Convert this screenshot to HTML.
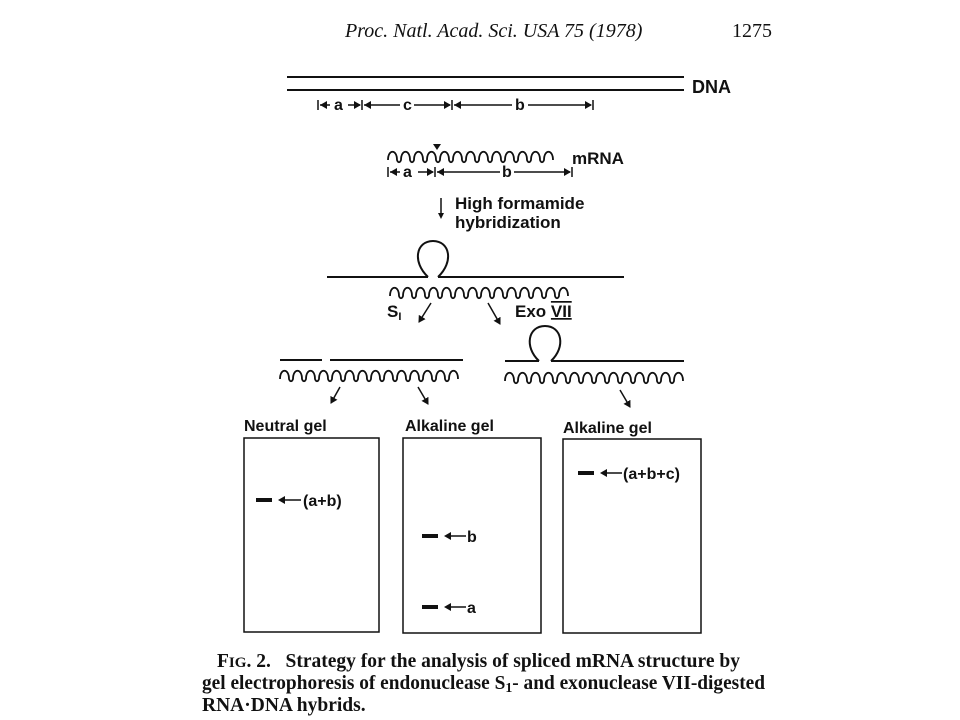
<!DOCTYPE html>
<html><head><meta charset="utf-8"><style>
html,body{margin:0;padding:0;background:#fff;}
svg{display:block}
.s{font-family:"Liberation Sans",sans-serif;font-weight:bold;fill:#111}
.r{font-family:"Liberation Serif",serif;fill:#111}
</style></head><body>
<svg width="960" height="720" viewBox="0 0 960 720" xmlns="http://www.w3.org/2000/svg">
<defs>
<marker id="ah" markerWidth="8" markerHeight="8" refX="6" refY="4" orient="auto" markerUnits="userSpaceOnUse"><path d="M0,0 L7,4 L0,8 z" fill="#111"/></marker>
</defs>
<text x="345" y="37" class="r" font-style="italic" font-size="20">Proc. Natl. Acad. Sci. USA 75 (1978)</text>
<text x="732" y="37" class="r" font-size="20">1275</text>

<g stroke="#111" stroke-width="2" fill="none">
<line x1="287" y1="77" x2="684" y2="77"/>
<line x1="287" y1="90" x2="684" y2="90"/>
</g>
<text x="692" y="93" class="s" font-size="18">DNA</text>
<g stroke="#111" stroke-width="1.5" fill="none">
<line x1="318" y1="100" x2="318" y2="110"/><line x1="362" y1="100" x2="362" y2="110"/><line x1="452" y1="100" x2="452" y2="110"/><line x1="593" y1="100" x2="593" y2="110"/>
<line x1="320" y1="105" x2="330" y2="105"/>
<line x1="348" y1="105" x2="360" y2="105" marker-end="url(#ah)"/>
<line x1="364" y1="105" x2="400" y2="105"/>
<line x1="414" y1="105" x2="450" y2="105" marker-end="url(#ah)"/>
<line x1="454" y1="105" x2="512" y2="105"/>
<line x1="528" y1="105" x2="591" y2="105" marker-end="url(#ah)"/>
</g>
<polygon points="320,105 327,101 327,109" fill="#111"/>
<polygon points="364,105 371,101 371,109" fill="#111"/>
<polygon points="454,105 461,101 461,109" fill="#111"/>
<text x="334" y="110" class="s" font-size="16">a</text>
<text x="403" y="110" class="s" font-size="16">c</text>
<text x="515" y="110" class="s" font-size="16">b</text>

<g stroke="#111" stroke-width="1.8" fill="none">
<path d="M388 160 c0 -11 9 -11 9 0 c1 3 3 3 4 0 c0 -11 9 -11 9 0 c1 3 3 3 4 0 c0 -11 9 -11 9 0 c1 3 3 3 4 0 c0 -11 9 -11 9 0 c1 3 3 3 4 0 c0 -11 9 -11 9 0 c1 3 3 3 4 0 c0 -11 9 -11 9 0 c1 3 3 3 4 0 c0 -11 9 -11 9 0 c1 3 3 3 4 0 c0 -11 9 -11 9 0 c1 3 3 3 4 0 c0 -11 9 -11 9 0 c1 3 3 3 4 0 c0 -11 9 -11 9 0 c1 3 3 3 4 0 c0 -11 9 -11 9 0 c1 3 3 3 4 0 c0 -11 9 -11 9 0 c1 3 3 3 4 0 c0 -11 9 -11 9 0"/>
<path d="M390 296 c0 -11 9 -11 9 0 c1 3 3 3 4 0 c0 -11 9 -11 9 0 c1 3 3 3 4 0 c0 -11 9 -11 9 0 c1 3 3 3 4 0 c0 -11 9 -11 9 0 c1 3 3 3 4 0 c0 -11 9 -11 9 0 c1 3 3 3 4 0 c0 -11 9 -11 9 0 c1 3 3 3 4 0 c0 -11 9 -11 9 0 c1 3 3 3 4 0 c0 -11 9 -11 9 0 c1 3 3 3 4 0 c0 -11 9 -11 9 0 c1 3 3 3 4 0 c0 -11 9 -11 9 0 c1 3 3 3 4 0 c0 -11 9 -11 9 0 c1 3 3 3 4 0 c0 -11 9 -11 9 0 c1 3 3 3 4 0 c0 -11 9 -11 9 0 c1 3 3 3 4 0 c0 -11 9 -11 9 0"/>
<path d="M280 379 c0 -11 9 -11 9 0 c1 3 3 3 4 0 c0 -11 9 -11 9 0 c1 3 3 3 4 0 c0 -11 9 -11 9 0 c1 3 3 3 4 0 c0 -11 9 -11 9 0 c1 3 3 3 4 0 c0 -11 9 -11 9 0 c1 3 3 3 4 0 c0 -11 9 -11 9 0 c1 3 3 3 4 0 c0 -11 9 -11 9 0 c1 3 3 3 4 0 c0 -11 9 -11 9 0 c1 3 3 3 4 0 c0 -11 9 -11 9 0 c1 3 3 3 4 0 c0 -11 9 -11 9 0 c1 3 3 3 4 0 c0 -11 9 -11 9 0 c1 3 3 3 4 0 c0 -11 9 -11 9 0 c1 3 3 3 4 0 c0 -11 9 -11 9 0 c1 3 3 3 4 0 c0 -11 9 -11 9 0"/>
<path d="M505 381 c0 -11 9 -11 9 0 c1 3 3 3 4 0 c0 -11 9 -11 9 0 c1 3 3 3 4 0 c0 -11 9 -11 9 0 c1 3 3 3 4 0 c0 -11 9 -11 9 0 c1 3 3 3 4 0 c0 -11 9 -11 9 0 c1 3 3 3 4 0 c0 -11 9 -11 9 0 c1 3 3 3 4 0 c0 -11 9 -11 9 0 c1 3 3 3 4 0 c0 -11 9 -11 9 0 c1 3 3 3 4 0 c0 -11 9 -11 9 0 c1 3 3 3 4 0 c0 -11 9 -11 9 0 c1 3 3 3 4 0 c0 -11 9 -11 9 0 c1 3 3 3 4 0 c0 -11 9 -11 9 0 c1 3 3 3 4 0 c0 -11 9 -11 9 0 c1 3 3 3 4 0 c0 -11 9 -11 9 0"/>
</g>
<polygon points="433,144 441,144 437,150" fill="#111"/>
<text x="572" y="164" class="s" font-size="17">mRNA</text>
<g stroke="#111" stroke-width="1.5" fill="none">
<line x1="388" y1="167" x2="388" y2="177"/><line x1="435" y1="167" x2="435" y2="177"/><line x1="572" y1="167" x2="572" y2="177"/>
<line x1="390" y1="172" x2="400" y2="172"/>
<line x1="418" y1="172" x2="433" y2="172" marker-end="url(#ah)"/>
<line x1="437" y1="172" x2="500" y2="172"/>
<line x1="514" y1="172" x2="570" y2="172" marker-end="url(#ah)"/>
</g>
<polygon points="390,172 397,168 397,176" fill="#111"/>
<polygon points="437,172 444,168 444,176" fill="#111"/>
<text x="403" y="177" class="s" font-size="16">a</text>
<text x="502" y="177" class="s" font-size="16">b</text>

<line x1="441" y1="198" x2="441" y2="216" stroke="#111" stroke-width="1.5"/>
<polygon points="438,213 444,213 441,219" fill="#111"/>
<text x="455" y="209" class="s" font-size="17">High formamide</text>
<text x="455" y="228" class="s" font-size="17">hybridization</text>

<g stroke="#111" stroke-width="2" fill="none">
<line x1="327" y1="277" x2="428" y2="277"/>
<line x1="438" y1="277" x2="624" y2="277"/>
<path d="M428 277 C412 262 416 241 433 241 C450 241 454 262 438 277"/>
<line x1="280" y1="360" x2="322" y2="360"/>
<line x1="330" y1="360" x2="463" y2="360"/>
<line x1="505" y1="361" x2="539" y2="361"/>
<line x1="551" y1="361" x2="684" y2="361"/>
<path d="M539 361 C524 347 528 326 545 326 C562 326 566 347 551 361"/>
</g>
<text x="387" y="317" class="s" font-size="17">S<tspan font-size="11" dy="3">I</tspan></text>
<text x="515" y="317" class="s" font-size="17">Exo <tspan text-decoration="overline underline">VII</tspan></text>
<g stroke="#111" stroke-width="1.5" fill="none">
<line x1="431" y1="303" x2="419" y2="322" marker-end="url(#ah)"/>
<line x1="488" y1="303" x2="500" y2="324" marker-end="url(#ah)"/>
<line x1="340" y1="387" x2="331" y2="403" marker-end="url(#ah)"/>
<line x1="418" y1="387" x2="428" y2="404" marker-end="url(#ah)"/>
<line x1="620" y1="390" x2="630" y2="407" marker-end="url(#ah)"/>
</g>

<text x="244" y="431" class="s" font-size="16">Neutral gel</text>
<text x="405" y="431" class="s" font-size="16">Alkaline gel</text>
<text x="563" y="433" class="s" font-size="16">Alkaline gel</text>
<g stroke="#111" stroke-width="1.5" fill="none">
<rect x="244" y="438" width="135" height="194"/>
<rect x="403" y="438" width="138" height="195"/>
<rect x="563" y="439" width="138" height="194"/>
</g>
<g fill="#111">
<rect x="256" y="498" width="16" height="4"/>
<rect x="422" y="534" width="16" height="4"/>
<rect x="422" y="605" width="16" height="4"/>
<rect x="578" y="471" width="16" height="4"/>
</g>
<g stroke="#111" stroke-width="1.5">
<line x1="280" y1="500" x2="301" y2="500"/>
<line x1="446" y1="536" x2="466" y2="536"/>
<line x1="446" y1="607" x2="466" y2="607"/>
<line x1="602" y1="473" x2="622" y2="473"/>
</g>
<g fill="#111">
<polygon points="278,500 285,496 285,504"/>
<polygon points="444,536 451,532 451,540"/>
<polygon points="444,607 451,603 451,611"/>
<polygon points="600,473 607,469 607,477"/>
</g>
<text x="303" y="506" class="s" font-size="16">(a+b)</text>
<text x="467" y="542" class="s" font-size="16">b</text>
<text x="467" y="613" class="s" font-size="16">a</text>
<text x="623" y="479" class="s" font-size="16">(a+b+c)</text>

<text x="217" y="667" class="r" font-weight="bold" font-size="19.5" textLength="523" lengthAdjust="spacingAndGlyphs">F<tspan font-size="15">IG</tspan>. 2.&#160;&#160; Strategy for the analysis of spliced mRNA structure by</text>
<text x="202" y="689" class="r" font-weight="bold" font-size="19.5" textLength="563" lengthAdjust="spacingAndGlyphs">gel electrophoresis of endonuclease S<tspan font-size="14" dy="3">1</tspan><tspan dy="-3">- and exonuclease VII-digested</tspan></text>
<text x="202" y="711" class="r" font-weight="bold" font-size="19.5">RNA·DNA hybrids.</text>
</svg>
</body></html>
